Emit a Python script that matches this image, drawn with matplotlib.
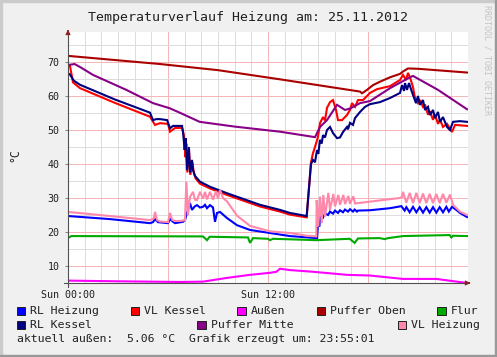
# Temperaturverlauf Heizung - Nachbau einer RRDtool-Grafik
import matplotlib
matplotlib.use("Agg")
from matplotlib import pyplot as plt
from matplotlib.patches import Rectangle
from matplotlib.ticker import MultipleLocator

# Daten (Stunde, Temperatur)
# ========================================
rl_heizung = [(0, 24.7), (2.5, 23.8), (4.92, 22.6), (5.1, 22.9), (5.22, 23.8), (5.4, 22.9), (6.0, 22.6),
              (6.12, 23.8), (6.3, 23.0), (6.42, 22.6), (6.9, 23.0), (7.02, 23.5), (7.14, 25.6), (7.32, 28.5),
              (7.44, 26.5), (7.6, 27.5), (7.74, 27.9), (7.92, 27.2), (8.1, 27.4), (8.22, 28.0), (8.34, 27.0),
              (8.52, 27.9), (8.7, 27.2), (8.82, 23.0), (8.94, 25.6), (9.12, 25.9), (9.54, 24.1), (10.14, 22.0),
              (10.92, 20.6), (12.12, 19.7), (13.32, 18.8), (14.94, 18.2), (15.0, 22.6), (15.08, 21.6),
              (15.14, 24.5), (15.3, 24.2), (15.42, 25.5), (15.6, 25.0), (15.72, 26.0), (15.9, 25.4),
              (16.02, 26.3), (16.2, 25.6), (16.32, 26.4), (16.5, 25.8), (16.62, 26.6), (16.8, 26.0),
              (16.92, 26.7), (17.1, 26.0), (17.2, 26.6), (17.34, 26.0), (17.4, 26.3), (18.12, 26.4),
              (19.32, 27.0), (20.0, 27.6), (20.2, 26.3), (20.3, 27.3), (20.5, 25.8), (20.7, 27.4), (20.9, 25.8),
              (21.1, 27.3), (21.3, 25.7), (21.5, 27.3), (21.7, 25.7), (21.9, 27.3), (22.1, 25.7), (22.3, 27.3),
              (22.5, 25.8), (22.7, 27.4), (22.85, 26.0), (23.04, 27.4), (23.3, 26.5), (23.52, 25.6), (23.94, 24.4)]

vl_kessel = [(0, 69.0), (0.12, 68.8), (0.3, 64.0), (0.72, 62.3), (2.8, 58.0), (4.92, 53.9), (5.22, 51.5),
             (5.52, 52.0), (6.0, 51.8), (6.12, 49.5), (6.42, 50.6), (6.84, 50.6), (6.95, 48.5), (7.05, 42.0),
             (7.1, 46.0), (7.16, 37.5), (7.26, 44.5), (7.34, 36.8), (7.46, 40.5), (7.55, 37.5), (7.65, 35.8),
             (7.92, 34.2), (8.52, 32.8), (9.54, 30.9), (11.52, 27.5), (12.72, 26.0), (13.32, 25.1), (14.32, 24.3),
             (14.46, 33.0), (14.58, 40.5), (14.7, 43.2), (14.82, 45.0), (15.0, 48.0), (15.12, 52.0), (15.3, 53.8),
             (15.42, 52.8), (15.54, 56.5), (15.72, 58.2), (15.9, 58.8), (16.08, 55.9), (16.2, 52.9),
             (16.44, 52.9), (16.74, 54.4), (16.92, 55.9), (17.04, 57.9), (17.22, 56.8), (17.4, 58.8),
             (17.7, 58.8), (18.12, 60.9), (18.54, 62.0), (19.32, 62.9), (19.92, 64.7), (20.1, 66.2),
             (20.28, 64.7), (20.4, 66.8), (20.52, 65.5), (20.7, 62.6), (20.82, 59.4), (21.0, 57.9), (21.12, 58.8),
             (21.3, 56.8), (21.42, 57.5), (21.6, 54.5), (21.72, 55.5), (21.9, 53.0), (22.02, 54.5), (22.2, 51.8),
             (22.32, 53.0), (22.5, 50.9), (22.74, 51.8), (23.04, 49.4), (23.22, 51.5), (23.94, 51.2)]

aussen = [(0, 5.7), (3, 5.5), (6.72, 5.3), (8.1, 5.4), (9.54, 6.5), (10.92, 7.4), (12.12, 8.0), (12.5, 8.3),
          (12.72, 9.2), (13.32, 8.8), (14.7, 8.3), (16.74, 7.4), (18.12, 7.2), (18.7, 6.9), (20.1, 6.2),
          (22.1, 6.2), (23.94, 5.0)]

puffer_oben = [(0, 71.8), (5.52, 69.4), (9.0, 67.6), (12.72, 64.9), (17.52, 61.3), (17.64, 60.8),
               (17.94, 61.8), (18.3, 63.2), (18.72, 64.2), (19.32, 65.5), (19.92, 66.5), (20.1, 67.2),
               (20.4, 68.1), (21.0, 68.0), (23.94, 66.9)]

flur = [(0, 18.3), (0.1, 18.5), (0.2, 18.8), (8.1, 18.7), (8.34, 17.6), (8.5, 18.6), (10.8, 18.4),
        (10.92, 16.8), (11.1, 18.2), (12.0, 18.0), (12.12, 17.6), (12.3, 18.0), (14.94, 17.6), (16.9, 18.0),
        (17.2, 16.8), (17.4, 18.1), (18.7, 18.2), (19.0, 17.9), (19.2, 18.2), (20.1, 18.8), (22.9, 19.1),
        (23.0, 18.4), (23.1, 18.9), (23.94, 18.8)]

rl_kessel = [(0, 66.7), (0.12, 66.3), (0.35, 64.5), (0.72, 63.3), (2.8, 59.0), (4.92, 55.1), (5.1, 52.9),
             (5.3, 53.2), (5.52, 53.2), (5.95, 52.9), (6.12, 50.5), (6.3, 51.2), (6.84, 51.2), (6.9, 49.5),
             (7.0, 44.1), (7.06, 47.6), (7.14, 38.2), (7.25, 45.0), (7.32, 37.5), (7.44, 41.2), (7.5, 38.2),
             (7.62, 36.5), (7.92, 34.8), (8.52, 33.3), (9.54, 31.4), (11.52, 28.0), (12.72, 26.5), (13.32, 25.6),
             (14.32, 24.7), (14.46, 33.0), (14.58, 40.0), (14.7, 41.2), (14.82, 40.5), (14.94, 44.1),
             (15.02, 43.0), (15.12, 47.1), (15.22, 46.0), (15.3, 48.5), (15.42, 47.8), (15.54, 50.0),
             (15.72, 50.9), (15.9, 49.1), (16.14, 47.6), (16.32, 47.8), (16.5, 49.4), (16.74, 50.9),
             (16.8, 50.2), (16.92, 52.1), (17.1, 51.5), (17.22, 53.5), (17.52, 55.3), (17.82, 56.8),
             (18.12, 57.6), (18.72, 58.2), (19.32, 59.4), (19.92, 60.9), (20.04, 63.2), (20.16, 61.5),
             (20.22, 63.8), (20.34, 61.8), (20.46, 63.8), (20.58, 62.0), (20.7, 60.3), (20.88, 57.9),
             (21.0, 60.0), (21.12, 57.4), (21.3, 58.8), (21.42, 55.9), (21.6, 56.8), (21.72, 54.4), (21.9, 55.9),
             (22.02, 53.5), (22.2, 55.3), (22.32, 52.4), (22.5, 53.8), (22.74, 50.9), (22.92, 50.0),
             (23.1, 52.4), (23.52, 52.6), (23.94, 52.4)]

puffer_mitte = [(0, 69.1), (0.4, 69.4), (0.8, 68.3), (1.5, 66.2), (3.5, 61.8), (5.1, 57.9), (6.1, 56.4),
                (6.7, 55.1), (7.9, 52.4), (10.0, 51.0), (12.72, 49.5), (14.82, 47.9), (15.12, 50.9),
                (15.54, 52.9), (16.14, 57.4), (16.62, 55.9), (16.92, 56.3), (17.52, 57.9), (18.12, 58.5),
                (19.32, 62.3), (19.92, 63.9), (20.52, 65.5), (20.7, 65.9), (22.2, 61.8), (23.94, 56.1)]

vl_heizung = [(0, 25.9), (2.5, 24.7), (4.92, 23.5), (5.15, 24.0), (5.22, 25.9), (5.35, 23.5), (5.5, 23.1),
              (6.0, 22.9), (6.12, 25.6), (6.25, 23.6), (6.42, 23.2), (6.84, 23.3), (7.02, 23.5), (7.1, 34.8),
              (7.2, 25.0), (7.32, 30.3), (7.5, 31.8), (7.62, 29.5), (7.74, 29.4), (7.92, 31.8), (8.1, 29.8),
              (8.22, 31.8), (8.34, 29.6), (8.52, 31.8), (8.7, 29.5), (8.88, 32.0), (9.0, 29.8), (9.12, 32.4),
              (9.3, 30.0), (9.54, 29.0), (10.14, 24.8), (10.92, 21.8), (12.12, 20.2), (13.32, 19.7),
              (14.32, 18.9), (14.9, 18.7), (14.92, 29.4), (15.02, 21.6), (15.12, 30.4), (15.22, 22.6),
              (15.32, 30.9), (15.42, 24.5), (15.62, 31.5), (15.72, 26.5), (15.92, 31.2), (16.02, 27.5),
              (16.22, 30.9), (16.32, 28.0), (16.52, 30.9), (16.62, 28.2), (16.82, 30.6), (16.92, 28.3),
              (17.12, 30.5), (17.22, 28.4), (17.4, 28.5), (19.9, 30.0), (20.04, 30.3), (20.1, 31.8),
              (20.3, 28.6), (20.5, 31.5), (20.7, 28.5), (20.9, 31.5), (21.1, 28.5), (21.3, 31.3), (21.5, 28.5),
              (21.7, 31.2), (21.9, 28.5), (22.1, 31.2), (22.3, 28.5), (22.5, 31.2), (22.7, 28.6), (22.92, 31.0),
              (23.1, 28.0), (23.52, 26.0), (23.94, 25.0)]

x_ticks = [0, 6, 12, 18, 24]
x_labels = ["Sun 00:00", "", "Sun 12:00", "", ""]
y_ticks = [10, 20, 30, 40, 50, 60, 70]

# Reihenfolge wie in der Legende: (Daten, Farbe, Name, Zeile, x Kästchen, x Text)
series = [
    (rl_heizung, "#0000FF", "RL Heizung", 0, 16.7, 30),
    (vl_kessel, "#FF0000", "VL Kessel", 0, 130.7, 144),
    (aussen, "#FF00FF", "Außen", 0, 237.3, 250.7),
    (puffer_oben, "#AA0000", "Puffer Oben", 0, 316.7, 330),
    (flur, "#00AA00", "Flur", 0, 437.3, 450.7),
    (rl_kessel, "#000080", "RL Kessel", 1, 16.7, 30),
    (puffer_mitte, "#880088", "Puffer Mitte", 1, 197.3, 210.7),
    (vl_heizung, "#FF88AA", "VL Heizung", 1, 397.7, 411),
]

# Parámetros de la figura
# ========================================
W, H = 497, 357
bg = "#F0F0F0"
mono = "DejaVu Sans Mono"


def fx(px):
    return px / W


def fy(py):
    return 1 - py / H


fig = plt.figure(figsize=(W / 100, H / 100), dpi=100, facecolor=bg)

# Rahmen (3D-Schatten wie RRDtool)
fig.patches.append(Rectangle((0, 0), 1, 2 / H, transform=fig.transFigure, color="#999999", zorder=5))
fig.patches.append(Rectangle((1 - 2 / W, 0), 2 / W, 1, transform=fig.transFigure, color="#999999", zorder=5))
fig.patches.append(Rectangle((0, 1 - 2 / H), 1, 2 / H, transform=fig.transFigure, color="#CBCBCB", zorder=4))
fig.patches.append(Rectangle((0, 0), 2 / W, 1, transform=fig.transFigure, color="#CBCBCB", zorder=4))

ax = fig.add_axes([fx(68), fy(283), 400 / W, 251 / H])
ax.set_facecolor("white")
ax.set_xlim(0, 24)
ax.set_ylim(5, 78.82)

ax.set_xticks(x_ticks)
ax.set_xticklabels(x_labels)
ax.xaxis.set_minor_locator(MultipleLocator(1))
ax.set_yticks(y_ticks)
ax.yaxis.set_minor_locator(MultipleLocator(5))
ax.tick_params(which="both", length=0)
ax.tick_params(axis="y", which="major", length=2, color="#888888", pad=4)
ax.tick_params(axis="x", which="major", pad=5)
for lab in ax.get_xticklabels() + ax.get_yticklabels():
    lab.set_family(mono)
    lab.set_fontsize(7.2)
    lab.set_color("#202020")

ax.grid(which="minor", color="#DCDCDC", lw=0.7)
ax.grid(which="major", color="#F4B4B4", lw=0.7)
ax.set_axisbelow(True)
for s in ax.spines.values():
    s.set_visible(False)

for data, color, name, row, bx, tx in series:
    ax.plot([p[0] for p in data], [p[1] for p in data], color=color, lw=1.5,
            solid_joinstyle="miter", clip_on=True)

# Achsen mit Pfeilen
ax.plot([-0.01, 1.0], [0, 0], transform=ax.transAxes, color="#505050", lw=0.8, clip_on=False)
ax.plot([0, 0], [-0.016, 1.0], transform=ax.transAxes, color="#505050", lw=0.8, clip_on=False)
ax.annotate("", xy=(1.013, 0), xytext=(0.995, 0), xycoords="axes fraction",
            arrowprops=dict(arrowstyle="-|>", color="#8B2323", lw=0.8, mutation_scale=7))
ax.annotate("", xy=(0, 1.021), xytext=(0, 0.99), xycoords="axes fraction",
            arrowprops=dict(arrowstyle="-|>", color="#8B2323", lw=0.8, mutation_scale=7))

# Texte
fig.text(fx(248.5), fy(17), "Temperaturverlauf Heizung am: 25.11.2012", family=mono, fontsize=9.5,
         ha="center", va="center", color="#202020")
fig.text(fx(15), fy(155), "°C", family=mono, fontsize=8.3, rotation=90, ha="center", va="center",
         color="#202020")
fig.text(fx(487), fy(5), "RRDTOOL / TOBI OETIKER", family=mono, fontsize=6, rotation=270,
         ha="center", va="top", color="#C4C4C4")

# Legende
row_y = [311, 325]
for data, color, name, row, bx, tx in series:
    y = row_y[row]
    fig.patches.append(Rectangle((fx(bx), fy(y + 4)), 8.5 / W, 8.5 / H, transform=fig.transFigure,
                                 facecolor=color, edgecolor="#202020", lw=0.7))
    fig.text(fx(tx), fy(y), name, family=mono, fontsize=8.25, ha="left", va="center", color="#202020")

fig.text(fx(16.7), fy(339.5), "aktuell außen:  5.06 °C  Grafik erzeugt um: 23:55:01", family=mono,
         fontsize=8.25, ha="left", va="center", color="#202020")

fig.savefig("out.png", dpi=100, facecolor=bg)
